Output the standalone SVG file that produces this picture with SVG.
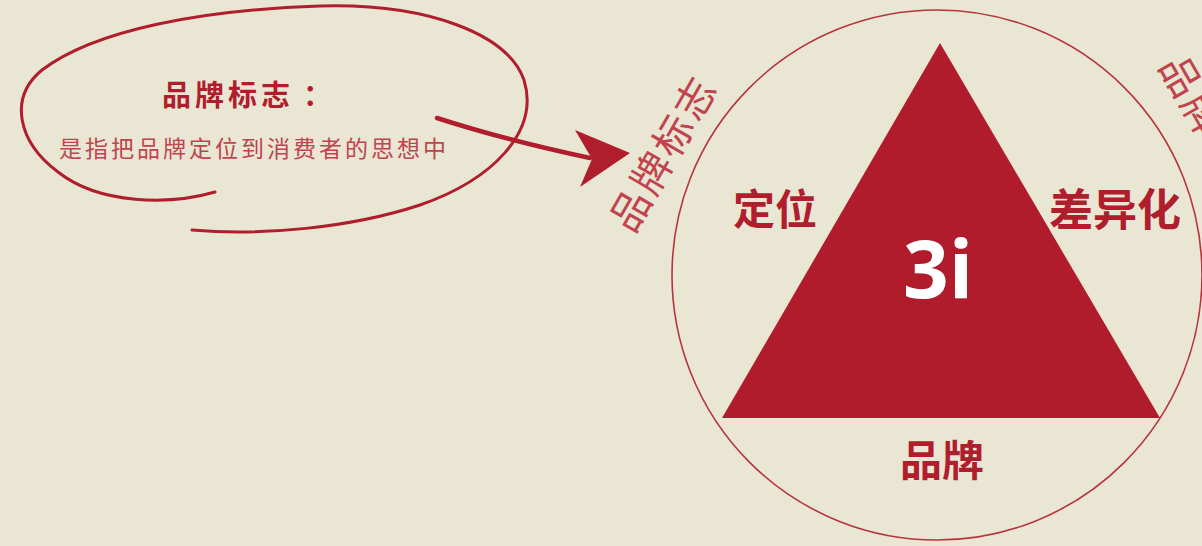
<svg xmlns="http://www.w3.org/2000/svg" width="1202" height="546" viewBox="0 0 1202 546">
  <style>
    .cjk { font-family: "Noto Sans CJK SC", "Noto Sans", sans-serif; }
    .bold { font-weight: 700; fill: #b01e2e; }
    .thin { font-weight: 400; fill: #c0434d; }
    .hand { fill: none; stroke: #b01e2e; stroke-linecap: round; stroke-linejoin: round; }
  </style>
  <rect width="1202" height="546" fill="#e9e6d4"/>

  <g id="note">
    <path class="hand" stroke-width="3" d="M215,192 C170,205 100,205 58,172 C18,142 8,98 42,70 C95,30 200,10 320,6 C430,3 508,35 524,80 C540,132 492,180 420,205 C350,228 262,236 192,230"/>
    <text class="cjk bold" x="162" y="106" font-size="29" letter-spacing="4">品牌标志<tspan x="303">：</tspan></text>
    <text class="cjk thin" x="59" y="157" font-size="23" letter-spacing="3">是指把品牌定位到消费者的思想中</text>
  </g>

  <g id="connectors">
    <path class="hand" stroke-width="4.5" d="M437,118 Q505,140 590,158"/>
    <polygon points="575,130 630,153 580,187 592,159" fill="#b01e2e"/>
  </g>

  <g id="circle">
    <circle cx="937" cy="275" r="265" fill="none" stroke="#b8343d" stroke-width="1.6"/>
    <text class="cjk thin" font-size="40" letter-spacing="3" transform="translate(633,235) rotate(-60)">品牌标志</text>
    <text class="cjk thin" font-size="40" letter-spacing="3" transform="translate(1158,66) rotate(60)">品牌标志</text>
  </g>

  <g id="triangle">
    <polygon points="940,43 722,418 1160,418" fill="#b01c2b"/>
    <text x="938" y="298" font-family="Open Sans, sans-serif" font-weight="700" font-size="80" fill="#ffffff" text-anchor="middle">3i</text>
  </g>

  <g id="label-dingwei">
    <text class="cjk bold" x="775" y="225" font-size="42" text-anchor="middle">定位</text>
  </g>
  <g id="label-chayihua">
    <text class="cjk bold" x="1115" y="226" font-size="44" text-anchor="middle">差异化</text>
  </g>
  <g id="label-pinpai">
    <text class="cjk bold" x="942" y="476" font-size="42" text-anchor="middle">品牌</text>
  </g>
</svg>
